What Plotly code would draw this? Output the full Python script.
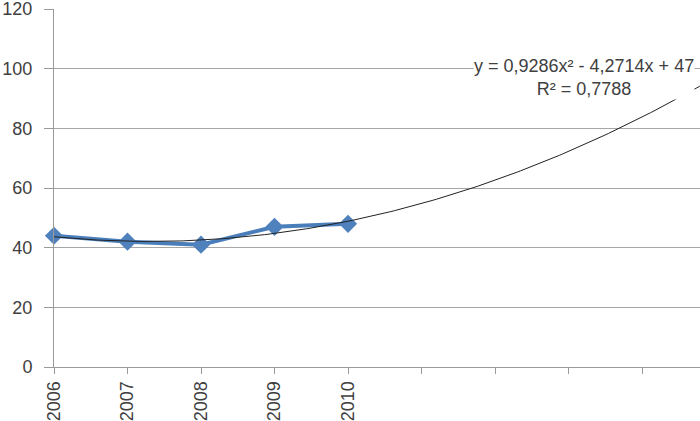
import numpy as np
import plotly.graph_objects as go

years = ["2006", "2007", "2008", "2009", "2010"]
values = [44, 42, 41, 47, 48]
extra_ticks = 4  # empty category slots after 2010
y_ticks = [0, 20, 40, 60, 80, 100, 120]

xs = np.arange(1, len(years) + 1)
coef = np.polyfit(xs, values, 2)
xt = np.linspace(1, 10.5, 200)
yt = np.polyval(coef, xt)

fig = go.Figure()
fig.add_trace(go.Scatter(x=xs, y=values, mode="lines+markers",
                         line=dict(color="#4A7EBB", width=4),
                         marker=dict(symbol="diamond", size=14, color="#4F81BD"),
                         showlegend=False, cliponaxis=False))
fig.add_trace(go.Scatter(x=xt, y=yt, mode="lines",
                         line=dict(color="#222222", width=1), hoverinfo="skip", showlegend=False))

vals = np.array(values, dtype=float)
r2 = 1 - np.sum((vals - np.polyval(coef, xs)) ** 2) / np.sum((vals - vals.mean()) ** 2)
eq = "y = {:.4f}x² - {:.4f}x + {:.0f}".format(coef[0], -coef[1], coef[2]).replace(".", ",")
r2t = "R² = {:.4f}".format(r2).replace(".", ",")

L, R, T, B = 54, 0, 9, 54
fig.add_annotation(xref="paper", x=(584 - L) / (700 - L - R), xanchor="center",
                   yref="y", y=97.0, yanchor="middle",
                   text=eq + "<br>" + r2t, showarrow=False, align="center",
                   font=dict(size=18, color="#404040", family="Liberation Sans"),
                   bgcolor="white", borderpad=0)

tickvals = list(range(1, len(years) + 1 + extra_ticks + 1))
ticktext = years + [""] * (len(tickvals) - len(years))
x_max = 1 + (700 - L) / 73.5

fig.update_layout(
    width=700, height=421,
    margin=dict(l=L, r=R, t=T, b=B),
    paper_bgcolor="white", plot_bgcolor="white",
    font=dict(family="Liberation Sans", size=18, color="#404040"),
    xaxis=dict(range=[1, x_max], tickmode="array", tickvals=tickvals, ticktext=ticktext,
               tickangle=-90, ticks="outside", ticklen=6, tickcolor="#9A9A9A",
               showgrid=False, showline=True, linecolor="#9A9A9A", zeroline=False,
               automargin=False, ticklabeloverflow="allow", tickfont=dict(size=18)),
    yaxis=dict(range=[0, 120], tickvals=y_ticks, ticks="outside", ticklen=9, tickcolor="#9A9A9A",
               showgrid=True, gridcolor="#A6A6A6", gridwidth=1, showline=True,
               linecolor="#9A9A9A", zeroline=False, automargin=False,
               ticklabeloverflow="allow", ticklabelstandoff=8, tickfont=dict(size=18)),
)

fig.write_html("out.html", config={"displayModeBar": False},
               post_script="document.body.style.margin='0';document.body.style.overflow='hidden';")
